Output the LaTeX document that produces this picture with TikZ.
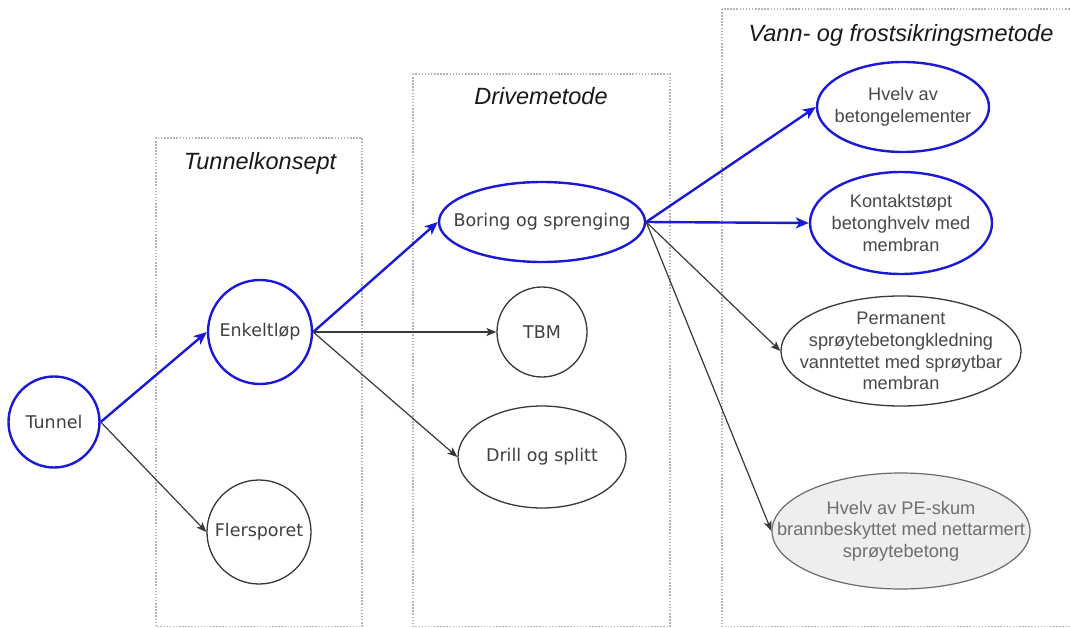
\documentclass[tikz,border=0pt]{standalone}
\usepackage{fontspec}
\setmainfont{Liberation Sans}
\newfontfamily\circfont{DejaVu Sans}
\newfontfamily\ellfont{Liberation Sans}
\usetikzlibrary{shapes.geometric,arrows.meta}
\definecolor{pathblue}{HTML}{1A1AD6}
\definecolor{inkgray}{HTML}{383838}
\definecolor{txtgray}{HTML}{404040}
\definecolor{rtxtgray}{HTML}{484848}
\definecolor{framegray}{HTML}{B4B4B4}
\definecolor{pefill}{HTML}{EEEEEE}
\definecolor{petext}{HTML}{6E6E6E}
\definecolor{peborder}{HTML}{6A6A6A}
\tikzset{
  frame/.style={draw=framegray, line width=1.5pt, dash pattern=on 1.5pt off 1.6pt},
  title/.style={font=\ellfont\itshape\fontsize{23.5}{28}\selectfont, text=black!90, anchor=base, inner sep=0pt},
  circ/.style={circle, fill=white, inner sep=0pt, minimum size=#1,
    font=\circfont\fontsize{17.5}{21}\selectfont, text=txtgray},
  ell/.style n args={2}{ellipse, fill=white, inner sep=0pt, minimum width=#1, minimum height=#2},
  hot/.style={draw=pathblue, line width=2.4pt},
  cold/.style={draw=inkgray, line width=1.3pt},
  ctext/.style={font=\circfont\fontsize{17.5}{21}\selectfont, text=txtgray, inner sep=0pt},
  rtext/.style={font=\ellfont\fontsize{18.2}{21.7}\selectfont, text=rtxtgray, align=center, inner sep=0pt},
  hotarrow/.style={draw=pathblue, line width=2.4pt, -{Stealth[length=13pt, width=11pt, inset=3.5pt]}},
  coldarrow/.style={draw=inkgray, line width=1.2pt, -{Stealth[length=10pt, width=8pt, inset=2.5pt]}},
}
\begin{document}
\begin{tikzpicture}[x=1pt, y=-1pt]
\useasboundingbox (0,0) rectangle (1070,628);
\fill[white] (0,0) rectangle (1070,628);

% column frames
\draw[frame] (156,138) rectangle (362,626.5);
\draw[frame] (413,74) rectangle (670,626.5);
\draw[frame] (722,9) rectangle (1075,626.5);

\node[title] (t1) at (260,170) {Tunnelkonsept};
\node[title] (t2) at (541,105) {Drivemetode};
\node[title] (t3) at (901,41.5) {Vann- og frostsikringsmetode};

% first and second level
\node[circ=91pt, hot] (tunnel) at (54,422) {Tunnel};
\node[circ=104pt, hot] (enkelt) at (260,332) {Enkeltløp};
\node[circ=104pt, cold] (flers) at (259,532) {Flersporet};

% driving methods
\node[ell={206pt}{80pt}, hot, label={[ctext]center:Boring og sprenging}] (boring) at (542,222) {};
\node[circ=90pt, cold] (tbm) at (542,332) {TBM};
\node[ell={168pt}{102pt}, cold, label={[ctext]center:Drill og splitt}] (drill) at (542,457) {};

% water and frost protection
\node[ell={172pt}{90pt}, hot, label={[rtext]center:Hvelv av\\betongelementer}] (hvelv) at (903,107) {};
\node[ell={182pt}{102pt}, hot, label={[rtext]center:Kontaktstøpt\\betonghvelv med\\membran}] (kontakt) at (901,223) {};
\node[ell={240pt}{110pt}, cold, label={[rtext]center:Permanent\\sprøytebetongkledning\\vanntettet med sprøytbar\\membran}] (perm) at (901,351) {};
\node[ell={258pt}{116pt}, fill=pefill, draw=peborder, line width=1.2pt,
      label={[rtext, text=petext]center:Hvelv av PE-skum\\brannbeskyttet med nettarmert\\sprøytebetong}] (pe) at (901,531) {};

% connectors
\draw[hotarrow] (tunnel.east) -- (enkelt.west);
\draw[coldarrow] (tunnel.east) -- (flers.west);
\draw[hotarrow] (enkelt.east) -- (boring.west);
\draw[coldarrow] (enkelt.east) -- (tbm.west);
\draw[coldarrow] (enkelt.east) -- (drill.west);
\draw[hotarrow] (boring.east) -- (hvelv.west);
\draw[hotarrow] (boring.east) -- (kontakt.west);
\draw[coldarrow] (boring.east) -- (perm.west);
\draw[coldarrow] (boring.east) -- (pe.west);
\end{tikzpicture}
\end{document}
